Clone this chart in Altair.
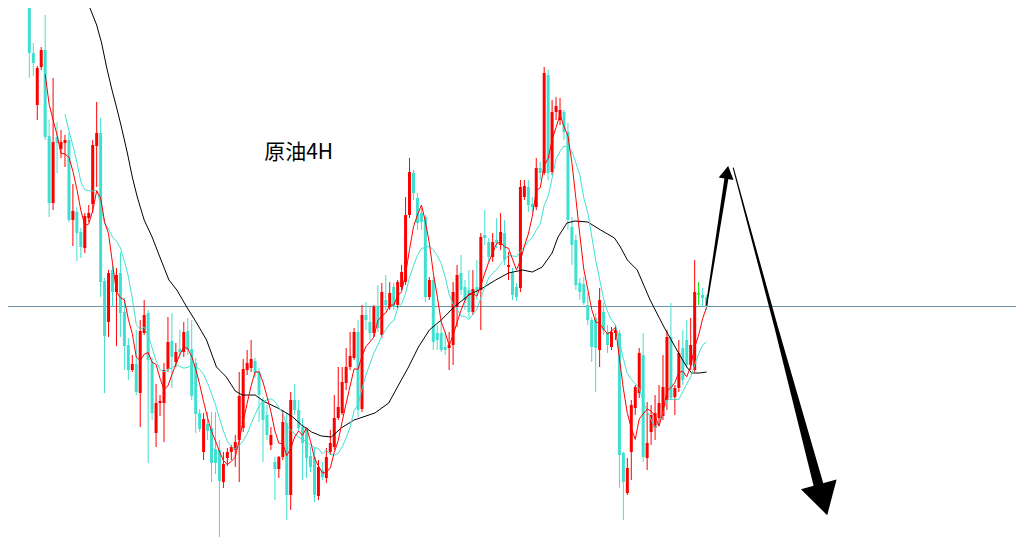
import altair as alt
import pandas as pd

# ---- candle data (4H crude oil), price units ----
opens = [605,547,495,533,550,464,397,463,451,457,460,380,388,368,352,382,396,454,467,319,
         278,330,308,327,288,255,230,236,207,267,287,238,167,197,197,231,259,238,251,248,
         269,251,237,187,148,176,172,151,150,118,142,148,150,160,172,230,232,239,228,200,
         185,155,138,131,143,177,105,200,190,173,172,144,143,104,130,122,148,153,182,187,
         217,233,242,268,191,285,278,267,294,265,300,293,313,295,313,318,385,427,402,387,
         383,303,320,267,267,253,252,255,293,327,313,310,288,313,310,365,358,343,360,355,
         367,333,327,313,312,403,413,396,393,432,427,525,428,488,480,488,468,373,360,317,
         316,295,280,282,250,288,268,253,267,267,147,107,148,192,207,245,142,168,172,182,
         184,200,263,203,212,252,260,235,230,306,305,303]
highs = [610,557,534,553,585,480,522,478,470,465,467,416,393,372,387,395,460,498,482,322,
         330,334,332,348,302,262,245,270,280,300,290,242,216,205,237,283,287,257,270,278,
         282,280,242,191,187,188,188,188,160,148,152,155,165,228,241,250,260,242,232,203,
         195,173,143,144,190,187,208,216,200,182,173,153,153,140,138,152,170,205,233,233,
         252,268,272,280,295,298,293,295,315,317,325,318,317,320,335,403,442,430,407,392,
         385,323,323,275,280,267,268,318,335,345,320,330,330,340,367,390,362,367,382,387,
         380,348,332,317,420,420,420,403,442,438,533,530,500,503,502,490,477,383,365,322,
         323,307,283,287,312,297,275,273,275,270,148,142,200,215,252,267,198,195,205,215,
         245,270,297,215,260,270,280,282,340,318,312,305]
lows = [522,524,480,530,460,383,390,427,442,433,378,354,339,342,347,378,387,413,303,207,
        263,293,254,263,230,220,228,205,173,265,137,180,153,184,158,228,212,233,243,243,
        245,200,167,168,140,160,118,126,63,112,134,140,133,118,168,225,228,222,178,138,
        160,150,100,122,140,80,90,185,168,120,122,128,98,100,120,117,145,150,180,185,
        210,230,240,183,188,270,260,263,268,262,290,290,290,292,310,315,382,400,370,370,
        298,300,250,250,248,245,230,235,273,305,290,282,285,300,270,355,338,338,352,350,
        335,320,300,299,308,400,388,388,390,420,425,420,425,480,475,460,370,335,310,300,
        295,275,238,208,233,265,247,250,260,112,80,105,120,185,202,138,130,155,160,175,
        180,190,200,185,208,215,232,230,228,295,293,290]
closes = [547,537,532,550,463,397,458,457,458,460,380,389,367,353,384,387,455,467,318,264,
          327,308,325,287,254,230,236,208,269,285,240,187,197,199,230,258,243,248,248,268,
          250,204,186,171,181,169,137,137,119,136,148,153,158,204,231,237,241,227,205,180,
          165,165,131,143,178,105,200,190,172,157,142,133,105,133,123,143,157,182,193,218,
          233,244,268,190,285,280,267,293,272,308,295,307,293,318,328,385,428,407,377,378,
          303,320,258,260,250,250,255,308,325,310,300,288,311,310,363,362,343,358,357,368,
          340,335,305,303,413,414,395,393,432,427,527,427,488,494,490,468,380,355,315,308,
          297,280,253,252,300,270,255,268,270,145,118,132,195,213,247,143,157,185,187,197,
          213,263,202,212,247,220,235,255,308,306,302,293]

# ---- long moving average (black), sampled along the drawn curve ----
ma_long_idx = [14.5,17,18.25,19.5,20.75,22,23.25,24.75,26,27.25,29,31,33.25,35.25,37.25,39.75,
               42.25,44.75,47.25,49.75,52,53.75,57,59.5,62.75,64.5,66.5,68.75,71.25,73.75,
               76.25,78.75,82,87.25,90.75,93.5,95.75,98.25,101,104,107.25,111,114.5,117.75,
               121,124.5,127,129.5,132,133.5,135.75,137.75,141,144.25,147.75,149.25,151,
               153.5,156.75,160.25,163.5,166,167.25,169.25,171]
ma_long_val = [600,575,557,533,512,493,473,447,423,403,380,363,340,320,310,293,277,260,233,223,
               209,205,205,198,192,188,183,175,168,164,163,172,180,187,197,217,233,253,270,
               280,293,305,312,320,327,330,328,333,347,363,377,379,378,370,362,353,340,330,
               300,273,250,233,227,227,228]

# ---- annotations ----
ref_level = [293.5]
title_text = ["原油4H"]
title_pos = [68, 447]
arrow_seg = [1, 1, 2, 2, 2]
arrow_x = [171, 176, 177.75, 188.5, 199.25]
arrow_y = [295, 421, 432, 274, 115.5]
arrow_w = [1.5, 4, 1, 3.5, 10]
head_x = [176.2, 200.4]
head_y = [427.7, 100.25]
head_size = [225, 1369]
head_angle = [9, 164.7]

n = len(closes)
df = pd.DataFrame({"i": list(range(n)), "o": opens, "h": highs, "l": lows, "c": closes})

xs = alt.Scale(domain=[-4.125, 247.875], nice=False, zero=False)
ys = alt.Scale(domain=[53, 592], nice=False, zero=False)
cs = alt.Scale(domain=["up", "down", "flat"], range=["#ff0000", "#40e0d0", "#00e000"])

X = alt.X("i:Q", scale=xs, axis=None)

base = alt.Chart(df).transform_calculate(
    d="datum.c > datum.o ? 'up' : (datum.c < datum.o ? 'down' : 'flat')",
    b0="datum.c == datum.o ? datum.o - 0.6 : datum.o",
    b1="datum.c == datum.o ? datum.c + 0.6 : datum.c",
)

hline = alt.Chart(pd.DataFrame({"p": ref_level})).mark_rule(
    color="#7090a6", strokeWidth=1
).encode(y=alt.Y("p:Q", scale=ys, axis=None))

wicks = base.mark_rule(strokeWidth=1).encode(
    x=X,
    y=alt.Y("l:Q", scale=ys, axis=None),
    y2="h:Q",
    color=alt.Color("d:N", scale=cs, legend=None),
)

bodies = base.mark_bar(size=3).encode(
    x=X,
    y=alt.Y("b0:Q", scale=ys, axis=None),
    y2="b1:Q",
    color=alt.Color("d:N", scale=cs, legend=None),
)

ma5 = alt.Chart(df).transform_window(
    m="mean(c)", frame=[-4, 0], sort=[alt.SortField("i")]
).transform_filter(alt.datum.i >= 4).mark_line(color="#ff0000", strokeWidth=1).encode(
    x=X, y=alt.Y("m:Q", scale=ys, axis=None), order="i:Q"
)

ma10 = alt.Chart(df).transform_window(
    m="mean(c)", frame=[-9, 0], sort=[alt.SortField("i")]
).transform_filter(alt.datum.i >= 9).mark_line(color="#40e0d0", strokeWidth=1).encode(
    x=X, y=alt.Y("m:Q", scale=ys, axis=None), order="i:Q"
)

ma_df = pd.DataFrame({"i": ma_long_idx, "v": ma_long_val})
ma_long = alt.Chart(ma_df).mark_line(color="#000000", strokeWidth=1).encode(
    x=alt.X("i:Q", scale=xs, axis=None), y=alt.Y("v:Q", scale=ys, axis=None), order="i:Q"
)

label = alt.Chart(pd.DataFrame({"i": [title_pos[0]], "p": [title_pos[1]], "t": title_text})).mark_text(
    font="Noto Sans CJK SC", fontSize=21, color="#000000", align="center", baseline="middle"
).encode(x=alt.X("i:Q", scale=xs, axis=None), y=alt.Y("p:Q", scale=ys, axis=None), text="t:N")

arr_df = pd.DataFrame({"seg": arrow_seg, "k": list(range(len(arrow_x))),
                       "i": arrow_x, "p": arrow_y, "w": arrow_w})
shafts = alt.Chart(arr_df).mark_trail(color="#000000", opacity=1).encode(
    x=alt.X("i:Q", scale=xs, axis=None),
    y=alt.Y("p:Q", scale=ys, axis=None),
    size=alt.Size("w:Q", scale=None, legend=None),
    detail="seg:N",
    order="k:Q",
)

head_df = pd.DataFrame({"i": head_x, "p": head_y, "s": head_size, "a": head_angle})
heads = alt.Chart(head_df).mark_point(
    shape="M0,-0.865L1,0.865L-1,0.865Z", filled=True, opacity=1, color="#000000", strokeWidth=0
).encode(
    x=alt.X("i:Q", scale=xs, axis=None),
    y=alt.Y("p:Q", scale=ys, axis=None),
    size=alt.Size("s:Q", scale=None, legend=None),
    angle=alt.Angle("a:Q", scale=None),
)

chart = alt.layer(hline, wicks, bodies, ma_long, ma10, ma5, label, shafts, heads).properties(
    width=1008, height=539, padding=0, autosize=alt.AutoSizeParams(type="none"),
    background="#ffffff",
).configure_view(strokeWidth=0)

chart.save("out.html", embed_options={"renderer": "svg", "actions": False})
